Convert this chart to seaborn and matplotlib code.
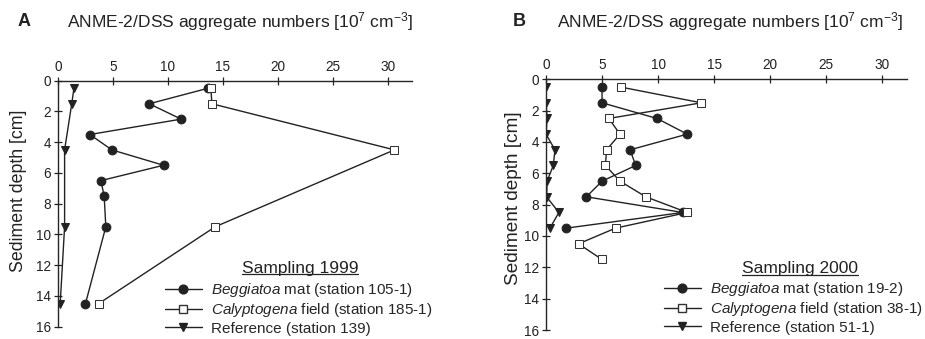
import pandas as pd
import matplotlib.pyplot as plt
import seaborn as sns
from matplotlib.lines import Line2D

# Sampling 1999 (panel A)
depth_a_beg = [0.5, 1.5, 2.5, 3.5, 4.5, 5.5, 6.5, 7.5, 9.5, 14.5]
beg_1999 = [13.6, 8.3, 11.2, 2.9, 4.9, 9.6, 3.9, 4.2, 4.35, 2.5]
depth_a_cal = [0.5, 1.5, 4.5, 9.5, 14.5]
cal_1999 = [13.9, 14.0, 30.6, 14.3, 3.7]
depth_a_ref = [0.5, 1.5, 4.5, 9.5, 14.5]
ref_1999 = [1.45, 1.25, 0.6, 0.6, 0.2]

# Sampling 2000 (panel B)
depth_b_beg = [0.5, 1.5, 2.5, 3.5, 4.5, 5.5, 6.5, 7.5, 8.5, 9.5]
beg_2000 = [5.0, 5.0, 9.9, 12.6, 7.5, 8.0, 5.0, 3.6, 12.2, 1.8]
depth_b_cal = [0.5, 1.5, 2.5, 3.5, 4.5, 5.5, 6.5, 7.5, 8.5, 9.5, 10.5, 11.5]
cal_2000 = [6.7, 13.85, 5.6, 6.6, 5.4, 5.3, 6.6, 8.9, 12.6, 6.2, 2.9, 5.0]
depth_b_ref = [0.5, 1.5, 2.5, 3.5, 4.5, 5.5, 6.5, 7.5, 8.5, 9.5]
ref_2000 = [0.0, 0.0, 0.1, 0.0, 0.8, 0.65, 0.1, 0.05, 1.15, 0.35]

x_ticks = [0, 5, 10, 15, 20, 25, 30]
y_ticks = [0, 2, 4, 6, 8, 10, 12, 14, 16]

sns.set_style("ticks")
plt.rcParams['font.family'] = ['Liberation Sans', 'DejaVu Sans']
plt.rcParams['mathtext.fontset'] = 'custom'
plt.rcParams['mathtext.rm'] = 'Liberation Sans'
plt.rcParams['mathtext.it'] = 'Liberation Sans:italic'

INK = '#222222'
STYLES = {
    'beg': dict(marker='o', markersize=6.3, markerfacecolor=INK, markeredgecolor=INK),
    'cal': dict(marker='s', markersize=6.3, markerfacecolor='white', markeredgecolor='#333333'),
    'ref': dict(marker='v', markersize=6.3, markerfacecolor=INK, markeredgecolor=INK),
}


def draw_panel(fig, rect, series, letter, letter_x, title_x, year, labels, leg_anchor, leg_title_xy):
    ax = fig.add_axes(rect)
    for key, depth, vals in series:
        df = pd.DataFrame({'depth': depth, 'value': vals})
        sns.lineplot(data=df, x='value', y='depth', sort=False, orient='y', estimator=None,
                     color=INK, linewidth=1.0, ax=ax, **STYLES[key])
    ax.set_xlim(0, 32.2)
    ax.set_ylim(16, 0)
    ax.set_xticks(x_ticks)
    ax.set_yticks(y_ticks)
    ax.xaxis.tick_top()
    ax.spines['bottom'].set_visible(False)
    ax.spines['right'].set_visible(False)
    ax.spines['top'].set_linewidth(1.0)
    ax.spines['left'].set_linewidth(1.0)
    ax.tick_params(direction='inout', length=6, width=0.9, labelsize=9.8, colors=INK, pad=2)
    ax.set_xlabel('')
    ax.set_ylabel('')

    ty = 1 - 22 / 339
    fig.text(letter_x, ty, letter, fontsize=13, fontweight='bold', ha='left', va='center', color=INK)
    fig.text(title_x, ty, 'ANME-2/DSS aggregate numbers [10$^{7}$ cm$^{-3}$]',
             fontsize=12.5, ha='left', va='center', color=INK)

    handles = [Line2D([], [], color=INK, linewidth=1.0, **STYLES[k]) for k, _, _ in series]
    ax.legend(handles, labels, loc='upper left', bbox_to_anchor=leg_anchor,
              bbox_transform=fig.transFigure, frameon=False, fontsize=11,
              handlelength=2.4, handletextpad=0.6, labelspacing=0.15, borderpad=0,
              borderaxespad=0)
    t = fig.text(leg_title_xy[0], leg_title_xy[1], 'Sampling %d' % year, fontsize=12.5,
                 ha='center', va='center', color=INK)
    fig.canvas.draw()
    bb = t.get_window_extent().transformed(fig.transFigure.inverted())
    fig.add_artist(Line2D([bb.x0, bb.x1], [bb.y0 + 0.003, bb.y0 + 0.003], color=INK,
                          linewidth=0.9, transform=fig.transFigure))
    return ax


fig = plt.figure(figsize=(9.25, 3.39), dpi=100)

draw_panel(fig, [58 / 925, 12.3 / 339, 354 / 925, 246 / 339],
           [('beg', depth_a_beg, beg_1999), ('cal', depth_a_cal, cal_1999), ('ref', depth_a_ref, ref_1999)],
           'A', 18 / 925, 67 / 925, 1999,
           [r'$\it{Beggiatoa}$ mat (station 105-1)', r'$\it{Calyptogena}$ field (station 185-1)',
            'Reference (station 139)'],
           (165 / 925, 1 - 281 / 339), (300 / 925, 1 - 268 / 339))

draw_panel(fig, [546 / 925, 9 / 339, 361 / 925, 250.7 / 339],
           [('beg', depth_b_beg, beg_2000), ('cal', depth_b_cal, cal_2000), ('ref', depth_b_ref, ref_2000)],
           'B', 513 / 925, 557 / 925, 2000,
           [r'$\it{Beggiatoa}$ mat (station 19-2)', r'$\it{Calyptogena}$ field (station 38-1)',
            'Reference (station 51-1)'],
           (664 / 925, 1 - 280 / 339), (800 / 925, 1 - 269 / 339))

fig.text(19 / 925, 1 - 191 / 339, 'Sediment depth [cm]', rotation=90, fontsize=12.8,
         ha='center', va='center', color=INK)
fig.text(513 / 925, 1 - 198 / 339, 'Sediment depth [cm]', rotation=90, fontsize=13.7,
         ha='center', va='center', color=INK)

fig.savefig('out.png', dpi=100)
